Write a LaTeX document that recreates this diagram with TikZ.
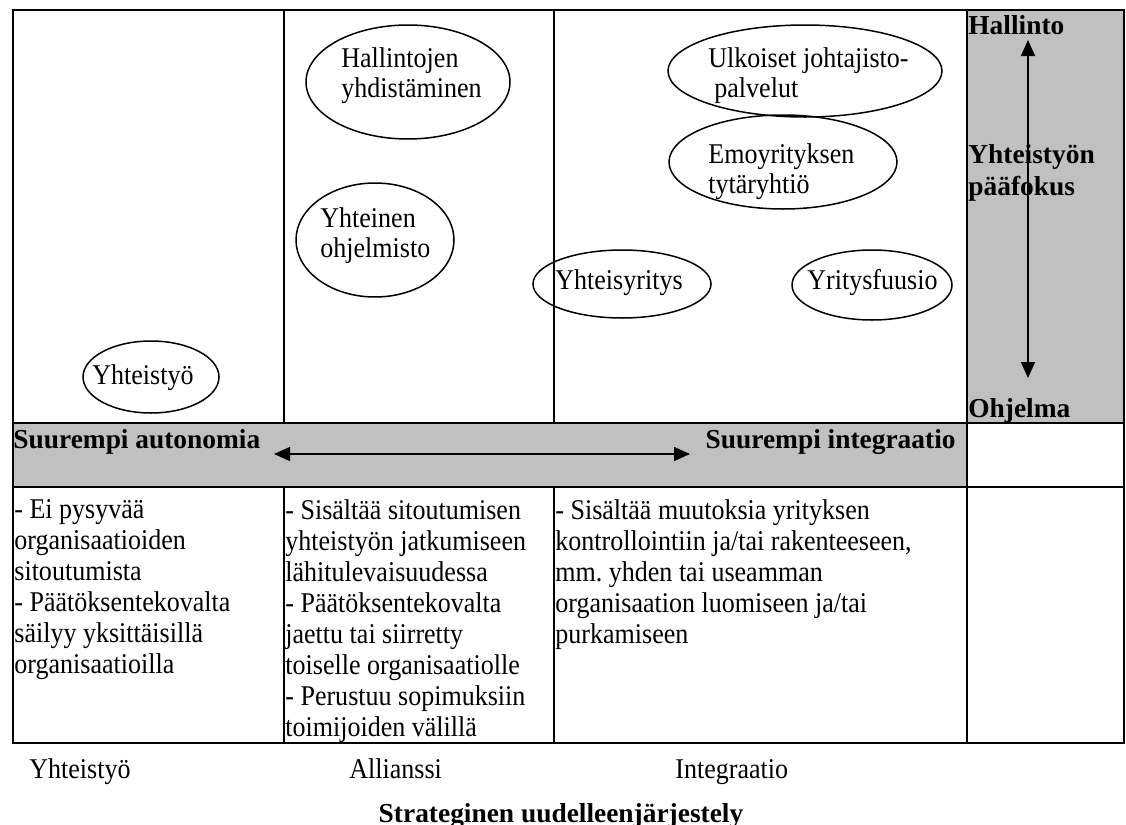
\documentclass[tikz,border=0pt]{standalone}
\usepackage{fontspec}
\setmainfont{Liberation Serif}
\newfontfamily\tallserif[FakeStretch=0.91]{Liberation Serif}
\usetikzlibrary{shapes.geometric,arrows.meta}
\definecolor{bandgray}{RGB}{192,192,192}
\frenchspacing
\tikzset{
  bubble/.style={draw, ellipse, line width=0.75pt, inner sep=0pt},
  intext/.style={align=left, anchor=north west, font=\tallserif\fontsize{14.3}{15}\selectfont},
  celltext/.style={align=left, anchor=north west, font=\tallserif\fontsize{14.3}{15.5}\selectfont},
  lbl/.style={anchor=base west, font=\tallserif\fontsize{14.3}{15.5}\selectfont},
  head/.style={font=\fontsize{13.7}{16}\selectfont\bfseries},
  axis/.style={line width=0.75pt, {Triangle[length=8pt,width=7pt]}-{Triangle[length=8pt,width=7pt]}}
}
\begin{document}
\begin{tikzpicture}[x=0.5pt,y=-0.5pt]
\tikzstyle{every node}+=[inner sep=0pt]
\useasboundingbox (0,0) rectangle (1126,825);
\fill [bandgray] (13,423) rectangle (967,487);
\fill [bandgray] (967,10) rectangle (1124,423);
\draw [line width=1pt] (13,10) rectangle (1124,743);
\draw [line width=1pt] (13,423) -- (1124,423);
\draw [line width=1pt] (13,487) -- (1124,487);
\draw [line width=1pt] (284,10) -- (284,423);
\draw [line width=1pt] (554,10) -- (554,423);
\draw [line width=1pt] (284,487) -- (284,743);
\draw [line width=1pt] (554,487) -- (554,743);
\draw [line width=1pt] (967,10) -- (967,743);
\node [bubble, minimum width=102pt, minimum height=57pt] (hallinnot) at (408,82) {};
\node [intext] (hallinnot-t) at (341,47) {Hallintojen\\yhdistäminen};
\node [bubble, minimum width=79pt, minimum height=57pt] (ohjelmisto) at (375,240) {};
\node [intext] (ohjelmisto-t) at (320,207) {Yhteinen\\ohjelmisto};
\node [bubble, minimum width=68pt, minimum height=36pt] (yhteistyo) at (151,377) {};
\node [lbl] (yhteistyo-t) at (92,384) {Yhteistyö};
\node [bubble, minimum width=137pt, minimum height=46pt] (ulkoiset) at (805,71) {};
\node [intext] (ulkoiset-t) at (708,47) {Ulkoiset johtajisto-\\\hspace{3pt}palvelut};
\node [bubble, minimum width=114pt, minimum height=47pt] (emo) at (783,162) {};
\node [intext] (emo-t) at (708,143) {Emoyrityksen\\tytäryhtiö};
\node [bubble, minimum width=89pt, minimum height=34pt] (yhteisyritys) at (622,284) {};
\node [lbl] (yhteisyritys-t) at (555,289) {Yhteisyritys};
\node [bubble, minimum width=80pt, minimum height=35pt] (fuusio) at (872,285) {};
\node [lbl] (fuusio-t) at (807,289) {Yritysfuusio};
\node [head, anchor=base west] (autonomia) at (13,448) {Suurempi autonomia};
\node [head, anchor=base east] (integraatio) at (956,448) {Suurempi integraatio};
\coordinate (vasen) at (274,454);
\coordinate (oikea) at (690,454);
\draw [axis] (vasen) -- (oikea);
\node [head, anchor=base west] (hallinto) at (968,34) {Hallinto};
\node [head, align=left, anchor=north west] (paafokus) at (968,144) {Yhteistyön\\pääfokus};
\node [head, anchor=base west] (ohjelma) at (968,417) {Ohjelma};
\coordinate (ylos) at (1028,40);
\coordinate (alas) at (1028,378);
\draw [axis] (alas) -- (ylos);
\node [celltext] (yhteistyo-k) at (14,499) {- Ei pysyvää\\organisaatioiden\\sitoutumista\\- Päätöksentekovalta\\säilyy yksittäisillä\\organisaatioilla};
\node [celltext] (allianssi-k) at (285,499) {- Sisältää sitoutumisen\\yhteistyön jatkumiseen\\lähitulevaisuudessa\\- Päätöksentekovalta\\jaettu tai siirretty\\toiselle organisaatiolle\\- Perustuu sopimuksiin\\toimijoiden välillä};
\node [celltext] (integraatio-k) at (555,499) {- Sisältää muutoksia yrityksen\\kontrollointiin ja/tai rakenteeseen,\\mm. yhden tai useamman\\organisaation luomiseen ja/tai\\purkamiseen};
\node [lbl] (yhteistyo-a) at (29,778) {Yhteistyö};
\node [lbl] (allianssi-a) at (349,778) {Allianssi};
\node [lbl] (integraatio-a) at (675,778) {Integraatio};
\node [head, anchor=base] (otsikko) at (561,822) {Strateginen uudelleenjärjestely};
\end{tikzpicture}
\end{document}
